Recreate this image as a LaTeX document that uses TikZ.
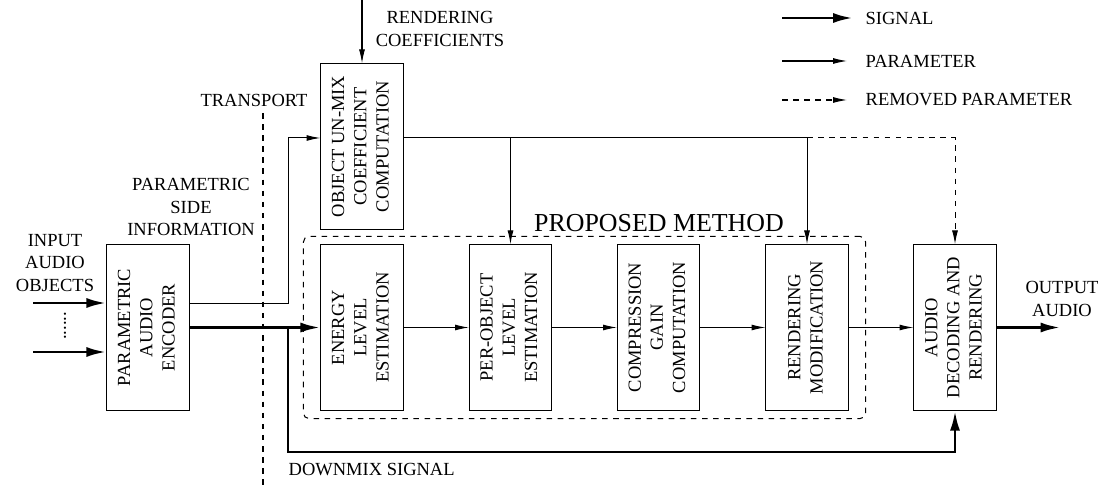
\documentclass[tikz,border=0pt]{standalone}
\usepackage{fontspec}
\setmainfont{Liberation Serif}
\usetikzlibrary{arrows.meta,fit}

\tikzset{
  blk/.style={draw,line width=0.55pt,minimum width=1.56cm,minimum height=3.14cm,inner sep=0pt},
  sig/.style={line width=1.6pt,-{Latex[length=10.8pt,width=5.4pt]}},
  parm/.style={line width=0.55pt,-{Latex[length=7.5pt,width=3.2pt]}},
  remparm/.style={parm,dashed},
}
\newcommand{\vtxt}[1]{\rotatebox{90}{\begin{tabular}{@{}c@{}}#1\end{tabular}}}

\begin{document}
\begin{tikzpicture}[x=0.019cm,y=-0.019cm,line width=0.55pt,font=\normalsize]
  \useasboundingbox (0,0) rectangle (1105,488);

  % 方框
  \node[blk] (enc)     at (148,327.5)   {\vtxt{PARAMETRIC\\AUDIO\\ENCODER}};
  \node[blk] (ouc)     at (362,146.5)   {\vtxt{OBJECT UN-MIX\\COEFFICIENT\\COMPUTATION}};
  \node[blk] (energy)  at (362,327.5)   {\vtxt{ENERGY\\LEVEL\\ESTIMATION}};
  \node[blk] (perobj)  at (510.5,327.5) {\vtxt{PER-OBJECT\\LEVEL\\ESTIMATION}};
  \node[blk] (comp)    at (658.5,327.5) {\vtxt{COMPRESSION\\GAIN\\COMPUTATION}};
  \node[blk] (rendmod) at (807,327.5)   {\vtxt{RENDERING\\MODIFICATION}};
  \node[blk] (dec)     at (955,327.5)   {\vtxt{AUDIO\\DECODING AND\\RENDERING}};

  % 虚线框 proposed method
  \node[draw,dashed,rounded corners=3pt,inner xsep=9.2pt,inner ysep=4.3pt,
        fit=(energy)(rendmod)] (pm) {};
  \node[font=\fontsize{14}{16}\selectfont] (pmlbl) at (659,223) {PROPOSED METHOD};

  % 输入
  \node[align=center] (inlbl) at (55,263) {INPUT\\AUDIO\\OBJECTS};
  \coordinate (in1) at (33,303);
  \coordinate (in2) at (33,352);
  \draw[sig] (in1) -- (in1 -| enc.west);
  \draw[sig] (in2) -- (in2 -| enc.west);
  \node (dots) at (65,326) {\rotatebox{90}{......}};

  % 传输线
  \coordinate (tp1) at (263,113);
  \coordinate (tp2) at (263,488);
  \draw[dashed] (tp1) -- (tp2);
  \node (tplbl) at (254,100) {TRANSPORT};
  \node[align=center] (silbl) at (191,207) {PARAMETRIC\\SIDE\\INFORMATION};

  % 参数
  \draw[parm] ([yshift=13pt]enc.east) -- ++(99,0) |- ([yshift=4.6pt]ouc.west);
  \coordinate (rc) at (362,0);
  \draw[parm] (rc) -- (ouc.north);
  \node[align=center] (rclbl) at (440,29) {RENDERING\\COEFFICIENTS};
  \coordinate (oo) at ([yshift=4.6pt]ouc.east);
  \draw (oo) -- (oo -| rendmod.north);
  \draw[parm] (oo -| perobj.north) -- (perobj.north);
  \draw[parm] (oo -| rendmod.north) -- (rendmod.north);
  \draw[remparm] (oo -| rendmod.north) -| (dec.north);

  % 信号
  \draw[sig] (enc.east) -- (energy.west);
  \coordinate (dm) at (288,327.5);
  \draw[sig] (dm) -- ++(0,124.5) -| (dec.south);
  \node[anchor=west] (dmlbl) at (282,470) {DOWNMIX SIGNAL};

  \draw[parm] (energy.east) -- (perobj.west);
  \draw[parm] (perobj.east) -- (comp.west);
  \draw[parm] (comp.east) -- (rendmod.west);
  \draw[parm] (rendmod.east) -- (dec.west);

  % 输出
  \draw[sig] (dec.east) -- ++(64,0) coordinate (out);
  \node[align=center] (outlbl) at (1062,299) {OUTPUT\\AUDIO};

  % 图例
  \node[anchor=west] (lsig) at (859,18)  {SIGNAL};
  \node[anchor=west] (lpar) at (859,61)  {PARAMETER};
  \node[anchor=west] (lrem) at (859,100) {REMOVED PARAMETER};
  \coordinate (ls) at (782,18);
  \coordinate (lp) at (782,61);
  \coordinate (lr) at (782,100);
  \draw[sig] (ls) -- ([xshift=-3.2pt]lsig.west);
  \draw[parm] (lp) -- ([xshift=-6.5pt]lpar.west);
  \draw[remparm] (lr) -- ([xshift=-6.5pt]lrem.west);
\end{tikzpicture}
\end{document}
